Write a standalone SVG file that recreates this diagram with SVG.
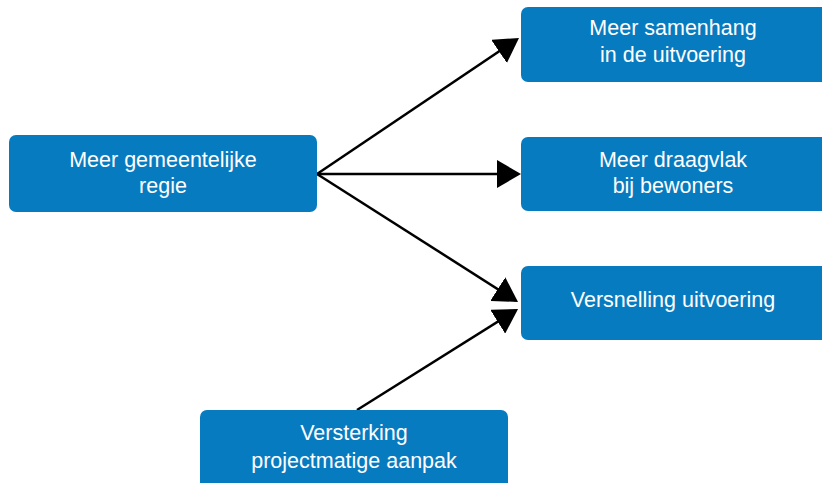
<svg xmlns="http://www.w3.org/2000/svg" width="822" height="483" viewBox="0 0 822 483">
<style>
.box{fill:#077bbf;}
.t{fill:#ffffff;font-family:"Liberation Sans",Arial,sans-serif;font-size:21.5px;text-anchor:middle;}
.c{stroke:#000;stroke-width:2.5;fill:none;marker-end:url(#ah);}
</style>
<defs>
<marker id="ah" markerUnits="userSpaceOnUse" markerWidth="24" markerHeight="28" viewBox="0 0 24 28" refX="21" refY="14" orient="auto">
<path d="M0,0 L24,14 L0,28 z" fill="#000"/>
</marker>
</defs>
<rect width="822" height="483" fill="#fff"/>
<g id="connectors">
<line class="c" x1="317" y1="174" x2="516.5" y2="39.7"/>
<line class="c" x1="317" y1="174" x2="518" y2="174"/>
<line class="c" x1="317" y1="174" x2="515.5" y2="300.4"/>
<line class="c" x1="357" y1="410" x2="515.5" y2="310.6"/>
</g>
<g id="n_regie">
<rect class="box" x="9" y="135" width="308" height="77" rx="7"/>
<text class="t" x="163" y="167">Meer gemeentelijke</text>
<text class="t" x="163" y="193">regie</text>
</g>
<g id="n_samenhang">
<rect class="box" x="521" y="7" width="308" height="75" rx="7"/>
<text class="t" x="673" y="35">Meer samenhang</text>
<text class="t" x="673" y="62">in de uitvoering</text>
</g>
<g id="n_draagvlak">
<rect class="box" x="521" y="137" width="308" height="74" rx="7"/>
<text class="t" x="673" y="167">Meer draagvlak</text>
<text class="t" x="673" y="193">bij bewoners</text>
</g>
<g id="n_versnelling">
<rect class="box" x="521" y="266" width="308" height="74" rx="7"/>
<text class="t" x="673" y="307">Versnelling uitvoering</text>
</g>
<g id="n_versterking">
<rect class="box" x="200" y="410" width="308" height="80" rx="7"/>
<text class="t" x="354" y="440">Versterking</text>
<text class="t" x="354" y="468">projectmatige aanpak</text>
</g>
</svg>
